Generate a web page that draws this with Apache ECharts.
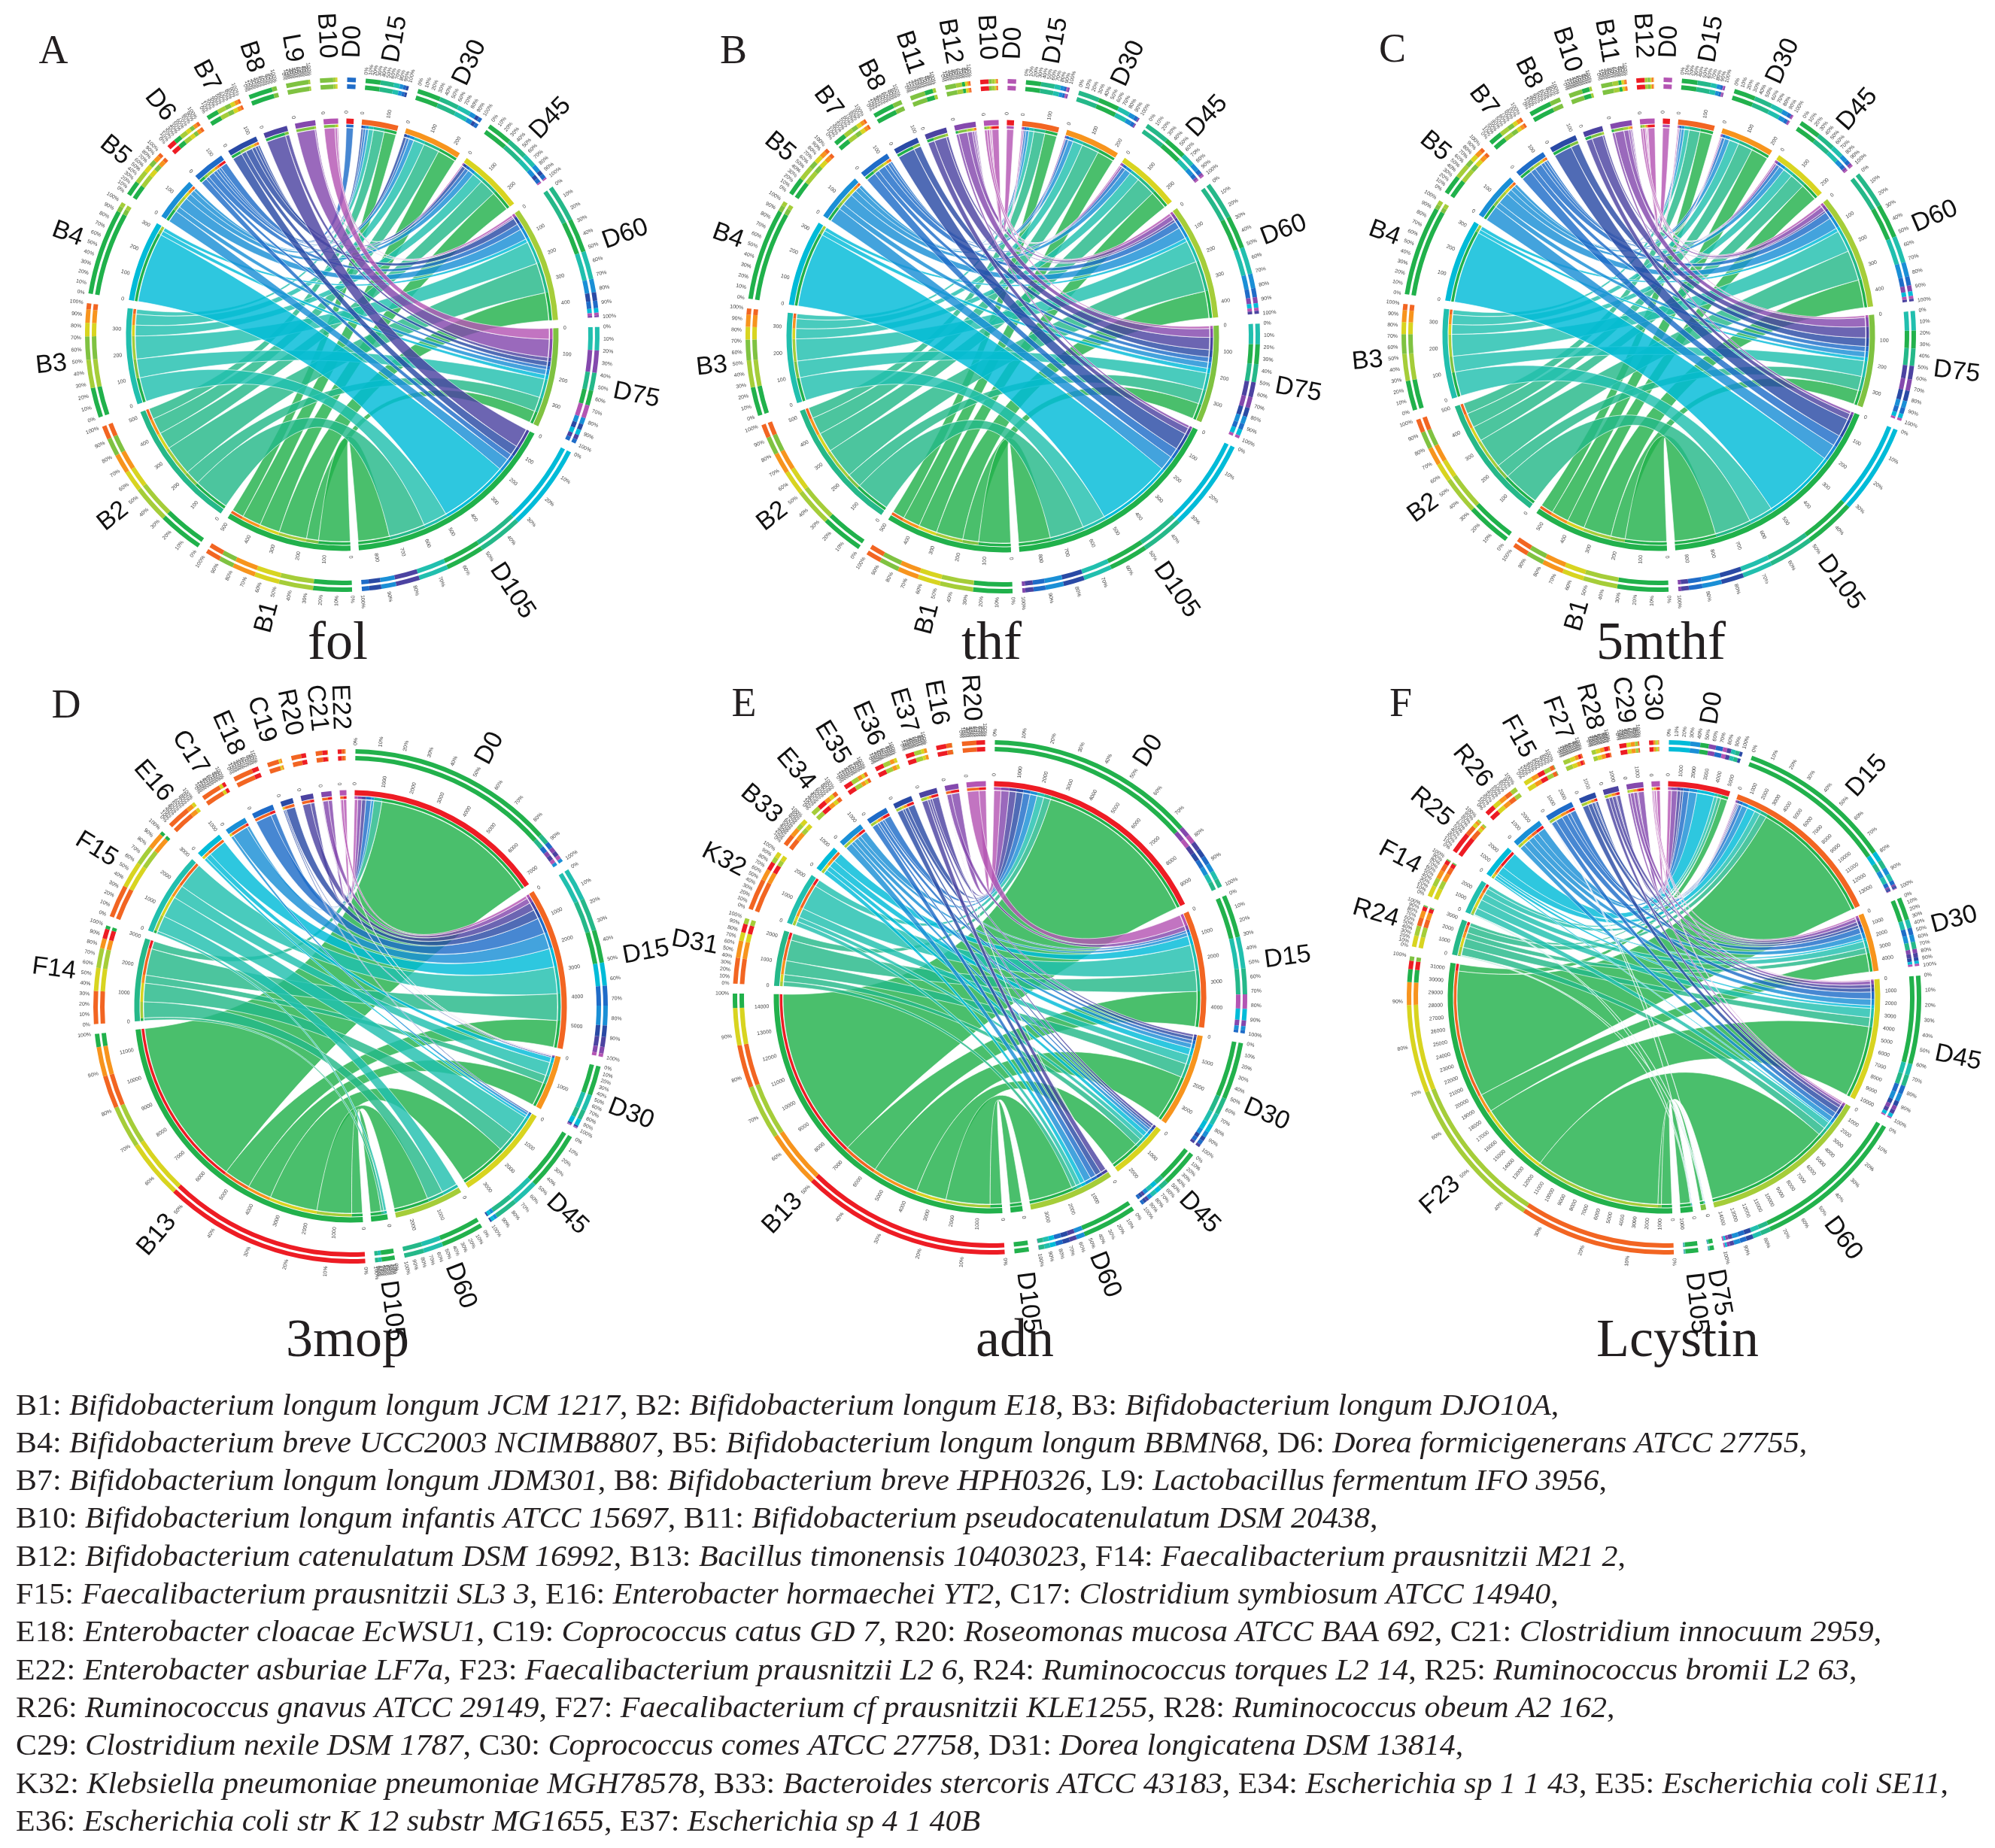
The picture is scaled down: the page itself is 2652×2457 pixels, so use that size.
<!DOCTYPE html>
<html>
<head>
<meta charset="utf-8">
<title>Circos plots of bacteria and time points</title>
<script src="https://cdn.jsdelivr.net/npm/echarts@6.0.0/dist/echarts.min.js"></script>
<style>
  html, body { margin: 0; padding: 0; background: #fff; }
  #main { width: 2652px; height: 2457px; }
</style>
</head>
<body>
<div id="main"></div>
<script>
// ---- data: rows = bacteria, columns = time points ----
var folTimes = ['D0', 'D15', 'D30', 'D45', 'D60', 'D75', 'D105'];
var folBugs = ['B1', 'B2', 'B3', 'B4', 'B5', 'D6', 'B7', 'B8', 'L9', 'B10'];
var folLinks = [
  [0, 50, 78, 84, 115, 50, 130],
  [0, 45, 66, 70, 125, 60, 150],
  [0, 20, 45, 45, 95, 78, 100],
  [0, 0, 0, 0, 15, 18, 290],
  [0, 12, 20, 25, 45, 22, 50],
  [29, 10, 12, 15, 25, 14, 25],
  [0, 8, 12, 15, 28, 20, 40],
  [0, 0, 0, 0, 0, 16, 80],
  [0, 0, 0, 0, 6, 75, 0],
  [0, 0, 0, 5, 9, 44, 0]
];

var thfTimes = ['D0', 'D15', 'D30', 'D45', 'D60', 'D75', 'D105'];
var thfBugs = ['B1', 'B2', 'B3', 'B4', 'B5', 'B7', 'B8', 'B11', 'B12', 'B10'];
var thfLinks = [
  [0, 50, 70, 75, 110, 65, 130],
  [0, 45, 70, 80, 125, 60, 140],
  [0, 20, 40, 42, 90, 68, 95],
  [0, 0, 0, 0, 15, 20, 305],
  [0, 12, 20, 25, 48, 25, 60],
  [0, 8, 12, 15, 30, 20, 40],
  [0, 0, 0, 0, 0, 30, 70],
  [0, 0, 0, 0, 10, 50, 27],
  [0, 5, 5, 8, 20, 36, 10],
  [28, 5, 0, 5, 10, 10, 0]
];

var mthfTimes = ['D0', 'D15', 'D30', 'D45', 'D60', 'D75', 'D105'];
var mthfBugs = ['B1', 'B2', 'B3', 'B4', 'B5', 'B7', 'B8', 'B10', 'B11', 'B12'];
var mthfLinks = [
  [0, 52, 72, 72, 115, 59, 170],
  [0, 45, 60, 62, 125, 58, 150],
  [0, 20, 40, 40, 90, 65, 100],
  [0, 0, 0, 0, 15, 15, 300],
  [0, 12, 20, 22, 48, 23, 65],
  [0, 8, 12, 14, 30, 21, 45],
  [0, 0, 0, 0, 0, 35, 75],
  [0, 0, 0, 0, 8, 45, 25],
  [0, 4, 5, 8, 20, 38, 10],
  [28, 4, 3, 5, 10, 8, 0]
];

var mopTimes = ['D0', 'D15', 'D30', 'D45', 'D60', 'D105'];
var mopBugs = ['B13', 'F14', 'F15', 'E16', 'C17', 'E18', 'C19', 'R20', 'C21', 'E22'];
var mopLinks = [
  [6300, 1000, 900, 1800, 1300, 400],
  [300, 1000, 300, 700, 600, 100],
  [0, 1000, 500, 800, 600, 100],
  [0, 700, 200, 100, 0, 0],
  [100, 600, 0, 100, 0, 0],
  [200, 600, 0, 0, 0, 0],
  [0, 350, 50, 50, 0, 0],
  [150, 300, 0, 0, 0, 0],
  [150, 200, 20, 0, 0, 0],
  [120, 100, 20, 0, 0, 0]
];

var adnTimes = ['D0', 'D15', 'D30', 'D45', 'D60', 'D105'];
var adnBugs = ['B13', 'D31', 'K32', 'B33', 'E34', 'E35', 'E36', 'E37', 'E16', 'R20'];
var adnLinks = [
  [7300, 1500, 2000, 1300, 1900, 500],
  [300, 900, 600, 300, 200, 0],
  [300, 1100, 400, 200, 200, 0],
  [0, 400, 300, 200, 200, 0],
  [300, 150, 200, 150, 300, 0],
  [300, 100, 150, 100, 250, 0],
  [300, 0, 150, 100, 250, 0],
  [300, 0, 100, 100, 250, 0],
  [350, 200, 0, 0, 10, 0],
  [300, 500, 0, 0, 0, 0]
];

var cysTimes = ['D0', 'D15', 'D30', 'D45', 'D60', 'D75', 'D105'];
var cysBugs = ['F23', 'R24', 'F14', 'R25', 'R26', 'F15', 'F27', 'R28', 'C29', 'C30'];
var cysLinks = [
  [600, 11000, 1600, 6200, 10900, 300, 900],
  [300, 600, 500, 800, 700, 50, 50],
  [300, 500, 600, 800, 600, 50, 50],
  [1500, 700, 200, 250, 150, 0, 0],
  [700, 500, 500, 550, 450, 0, 0],
  [500, 300, 500, 600, 450, 25, 25],
  [200, 100, 250, 350, 500, 0, 0],
  [300, 100, 300, 300, 300, 0, 0],
  [500, 100, 300, 300, 200, 0, 0],
  [300, 50, 150, 100, 100, 0, 0]
];

var legendLines = [
  [['B1', 'Bifidobacterium longum longum JCM 1217'], ['B2', 'Bifidobacterium longum E18'], ['B3', 'Bifidobacterium longum DJO10A']],
  [['B4', 'Bifidobacterium breve UCC2003 NCIMB8807'], ['B5', 'Bifidobacterium longum longum BBMN68'], ['D6', 'Dorea formicigenerans ATCC 27755']],
  [['B7', 'Bifidobacterium longum longum JDM301'], ['B8', 'Bifidobacterium breve HPH0326'], ['L9', 'Lactobacillus fermentum IFO 3956']],
  [['B10', 'Bifidobacterium longum infantis ATCC 15697'], ['B11', 'Bifidobacterium pseudocatenulatum DSM 20438']],
  [['B12', 'Bifidobacterium catenulatum DSM 16992'], ['B13', 'Bacillus timonensis 10403023'], ['F14', 'Faecalibacterium prausnitzii M21 2']],
  [['F15', 'Faecalibacterium prausnitzii SL3 3'], ['E16', 'Enterobacter hormaechei YT2'], ['C17', 'Clostridium symbiosum ATCC 14940']],
  [['E18', 'Enterobacter cloacae EcWSU1'], ['C19', 'Coprococcus catus GD 7'], ['R20', 'Roseomonas mucosa ATCC BAA 692'], ['C21', 'Clostridium innocuum 2959']],
  [['E22', 'Enterobacter asburiae LF7a'], ['F23', 'Faecalibacterium prausnitzii L2 6'], ['R24', 'Ruminococcus torques L2 14'], ['R25', 'Ruminococcus bromii L2 63']],
  [['R26', 'Ruminococcus gnavus ATCC 29149'], ['F27', 'Faecalibacterium cf prausnitzii KLE1255'], ['R28', 'Ruminococcus obeum A2 162']],
  [['C29', 'Clostridium nexile DSM 1787'], ['C30', 'Coprococcus comes ATCC 27758'], ['D31', 'Dorea longicatena DSM 13814']],
  [['K32', 'Klebsiella pneumoniae pneumoniae MGH78578'], ['B33', 'Bacteroides stercoris ATCC 43183'], ['E34', 'Escherichia sp 1 1 43'], ['E35', 'Escherichia coli SE11']],
  [['E36', 'Escherichia coli str K 12 substr MG1655'], ['E37', 'Escherichia sp 4 1 40B']]
];

// ---- styling ----
var TIME_COLORS = {D0: '#ed1c24', D15: '#f26522', D30: '#f7941d', D45: '#d8d420', D60: '#a5cd39', D75: '#7fc241', D105: '#20b14b'};
var BUG_COLORS = ['#22b14c', '#25b889', '#21bfae', '#00bbd8', '#1a8fd6', '#1f6cc8', '#2a4aa5', '#4c43a1', '#8448ad', '#b455b3'];
var SANS = 'Liberation Sans';
var SERIF = 'Liberation Serif';
var INK = '#231f20';
var RAD = Math.PI / 180;
var PAD = 2.2;
var R_RIB = 275, R_STRIP = [276, 279.5], R_NODE = [280.5, 287.5];
var R_TICK = 294, R_RING = [327, 333, 336, 342], R_PCT = 347, R_LABEL = 368;

var panels = [
  {letter: 'A', title: 'fol', times: folTimes, bugs: folBugs, links: folLinks, step: 100, cx: 455, cy: 445, lx: 71, ly: 70, tx: 449, ty: 857},
  {letter: 'B', title: 'thf', times: thfTimes, bugs: thfBugs, links: thfLinks, step: 100, cx: 1333, cy: 447, lx: 975, ly: 70, tx: 1318, ty: 857},
  {letter: 'C', title: '5mthf', times: mthfTimes, bugs: mthfBugs, links: mthfLinks, step: 100, cx: 2205, cy: 445, lx: 1851, ly: 68, tx: 2208, ty: 857},
  {letter: 'D', title: '3mop', times: mopTimes, bugs: mopBugs, links: mopLinks, step: 1000, cx: 466, cy: 1338, lx: 88, ly: 940, tx: 462, ty: 1784},
  {letter: 'E', title: 'adn', times: adnTimes, bugs: adnBugs, links: adnLinks, step: 1000, cx: 1316, cy: 1326, lx: 989, ly: 938, tx: 1349, ty: 1784},
  {letter: 'F', title: 'Lcystin', times: cysTimes, bugs: cysBugs, links: cysLinks, step: 1000, cx: 2212, cy: 1326, lx: 1862, ly: 938, tx: 2230, ty: 1784}
];

// nodes go clockwise from the top: time points first, then bacteria
function layout(times, bugs, links) {
  var nT = times.length, nB = bugs.length, nodes = [], i, j;
  for (j = 0; j < nT; j++) {
    var tv = 0;
    for (i = 0; i < nB; i++) tv += links[i][j];
    nodes.push({name: times[j], value: tv, color: TIME_COLORS[times[j]]});
  }
  for (i = 0; i < nB; i++) {
    var bv = 0;
    for (j = 0; j < nT; j++) bv += links[i][j];
    nodes.push({name: bugs[i], value: bv, color: BUG_COLORS[i]});
  }
  var total = 0;
  nodes.forEach(function (n) { total += n.value; });
  var k = (360 - nodes.length * PAD) / total;
  var cur = 90 - PAD / 2;
  nodes.forEach(function (n) { n.hi = cur; n.lo = cur - n.value * k; cur = n.lo - PAD; });

  var slots = {};
  for (j = 0; j < nT; j++) {
    var tn = nodes[j], c = tn.hi;
    tn.parts = [];
    for (i = nB - 1; i >= 0; i--) {
      var v = links[i][j];
      if (!v) continue;
      var s = {hi: c, lo: c - v * k};
      c = s.lo;
      slots[i + '_' + j] = {t: s};
      tn.parts.push({value: v, color: BUG_COLORS[i], hi: s.hi, lo: s.lo});
    }
  }
  for (i = 0; i < nB; i++) {
    var bn = nodes[nT + i], c2 = bn.hi;
    bn.parts = [];
    for (j = nT - 1; j >= 0; j--) {
      var v2 = links[i][j];
      if (!v2) continue;
      var s2 = {hi: c2, lo: c2 - v2 * k};
      c2 = s2.lo;
      slots[i + '_' + j].b = s2;
      bn.parts.push({value: v2, color: TIME_COLORS[times[j]], hi: s2.hi, lo: s2.lo});
    }
  }
  var ribbons = [];
  for (i = 0; i < nB; i++) {
    for (j = 0; j < nT; j++) {
      if (!links[i][j]) continue;
      var sl = slots[i + '_' + j];
      ribbons.push({i: i, j: j, value: links[i][j], color: BUG_COLORS[i], b: sl.b, t: sl.t});
    }
  }
  return {nodes: nodes, ribbons: ribbons, k: k};
}

function pt(cx, cy, r, deg) {
  return [cx + r * Math.cos(deg * RAD), cy - r * Math.sin(deg * RAD)];
}
function arcPts(out, cx, cy, r, hi, lo) {
  var n = Math.max(2, Math.ceil((hi - lo) / 0.5));
  for (var s = 0; s <= n; s++) out.push(pt(cx, cy, r, hi - (hi - lo) * s / n));
}
function bezPts(out, cx, cy, p0, p2) {
  for (var s = 1; s < 40; s++) {
    var t = s / 40, u = 1 - t;
    out.push([u * u * p0[0] + 2 * u * t * cx + t * t * p2[0], u * u * p0[1] + 2 * u * t * cy + t * t * p2[1]]);
  }
}
function ribbonPoints(cx, cy, b, t) {
  var pts = [];
  arcPts(pts, cx, cy, R_RIB, b.hi, b.lo);
  bezPts(pts, cx, cy, pt(cx, cy, R_RIB, b.lo), pt(cx, cy, R_RIB, t.hi));
  arcPts(pts, cx, cy, R_RIB, t.hi, t.lo);
  bezPts(pts, cx, cy, pt(cx, cy, R_RIB, t.lo), pt(cx, cy, R_RIB, b.hi));
  return pts;
}
function sector(cx, cy, r0, r1, hi, lo, color) {
  return {type: 'sector', shape: {cx: cx, cy: cy, r0: r0, r: r1, startAngle: -hi * RAD, endAngle: -lo * RAD, clockwise: true},
    style: {fill: color}};
}
function radialText(cx, cy, r, deg, text, size, color) {
  var a = deg * RAD, right = Math.cos(a) >= -1e-6, p = pt(cx, cy, r, deg);
  return {type: 'text', x: p[0], y: p[1], rotation: right ? a : a - Math.PI,
    style: {text: text, fontSize: size, fontFamily: SANS, fill: color,
      align: right ? 'left' : 'right', verticalAlign: 'middle'}};
}
function nodeGroup(p, n, k) {
  var cx = p.cx, cy = p.cy, kids = [];
  kids.push(sector(cx, cy, R_NODE[0], R_NODE[1], n.hi, n.lo, n.color));
  n.parts.forEach(function (q) { kids.push(sector(cx, cy, R_STRIP[0], R_STRIP[1], q.hi, q.lo, q.color)); });
  var sorted = n.parts.slice().sort(function (a, b) { return b.value - a.value; });
  var c = n.hi;
  sorted.forEach(function (q) {
    var lo = c - q.value * k;
    kids.push(sector(cx, cy, R_RING[0], R_RING[1], c, lo, q.color));
    kids.push(sector(cx, cy, R_RING[2], R_RING[3], c, lo, q.color));
    c = lo;
  });
  for (var v = 0; v <= n.value; v += p.step) {
    kids.push(radialText(cx, cy, R_TICK, n.hi - v * k, String(v), 7, '#444'));
  }
  var span = n.hi - n.lo;
  if (span > 4) {
    for (var q = 0; q <= 10; q++) kids.push(radialText(cx, cy, R_PCT, n.hi - span * q / 10, (q * 10) + '%', 7, '#444'));
  }
  kids.push(radialText(cx, cy, R_LABEL, (n.hi + n.lo) / 2, n.name, 34, '#111'));
  return {type: 'group', children: kids};
}

var series = [];
var graphics = [];
panels.forEach(function (p) {
  var L = layout(p.times, p.bugs, p.links);
  series.push({
    type: 'custom', coordinateSystem: 'none', silent: true, z: 1,
    data: L.ribbons.map(function (r) { return [r.i, r.j, r.value]; }),
    renderItem: function (params) {
      var r = L.ribbons[params.dataIndex];
      return {type: 'polygon', shape: {points: ribbonPoints(p.cx, p.cy, r.b, r.t)},
        style: {fill: r.color, opacity: 0.82, stroke: '#ffffff', lineWidth: 0.8}};
    }
  });
  series.push({
    type: 'custom', coordinateSystem: 'none', silent: true, z: 2,
    data: L.nodes.map(function (n) { return n.value; }),
    renderItem: function (params) { return nodeGroup(p, L.nodes[params.dataIndex], L.k); }
  });
  graphics.push({type: 'text', x: p.lx, y: p.ly, silent: true,
    style: {text: p.letter, fontSize: 54, fontFamily: SERIF, fill: INK, align: 'center', verticalAlign: 'middle',
      textAlign: 'center', textVerticalAlign: 'middle'}});
  graphics.push({type: 'text', x: p.tx, y: p.ty, silent: true,
    style: {text: p.title, fontSize: 72, fontFamily: SERIF, fill: INK, align: 'center', verticalAlign: 'middle',
      textAlign: 'center', textVerticalAlign: 'middle'}});
});

// legend of species codes
var LEG_SIZE = 40;
var measureCtx = document.createElement('canvas').getContext('2d');
function lineParts(line, last) {
  var parts = [];
  line.forEach(function (e, idx) {
    parts.push(['r', (idx ? ', ' : '') + e[0] + ': ']);
    parts.push(['i', e[1]]);
  });
  if (!last) parts.push(['r', ',']);
  return parts;
}
function partsWidth(parts) {
  var w = 0;
  parts.forEach(function (s) {
    measureCtx.font = (s[0] === 'i' ? 'italic ' : '') + LEG_SIZE + 'px "' + SERIF + '"';
    w += measureCtx.measureText(s[1]).width;
  });
  return w;
}
var legScale = (2590 - 21) / partsWidth(lineParts(legendLines[10], false));
legendLines.forEach(function (line, li) {
  var parts = lineParts(line, li === legendLines.length - 1);
  graphics.push({type: 'text', x: 21, y: 1870 + li * 50.3, scaleX: legScale, silent: true,
    style: {
      text: parts.map(function (s) { return '{' + s[0] + '|' + s[1] + '}'; }).join(''),
      fontSize: LEG_SIZE, fontFamily: SERIF, fill: INK, align: 'left', verticalAlign: 'middle',
      textAlign: 'left', textVerticalAlign: 'middle',
      rich: {
        r: {fontSize: LEG_SIZE, fontFamily: SERIF, fill: INK},
        i: {fontSize: LEG_SIZE, fontFamily: SERIF, fontStyle: 'italic', fill: INK}
      }
    }});
});

var chart = echarts.init(document.getElementById('main'));
chart.setOption({
  backgroundColor: '#ffffff',
  animation: false,
  graphic: {elements: graphics},
  series: series
});
</script>
</body>
</html>
